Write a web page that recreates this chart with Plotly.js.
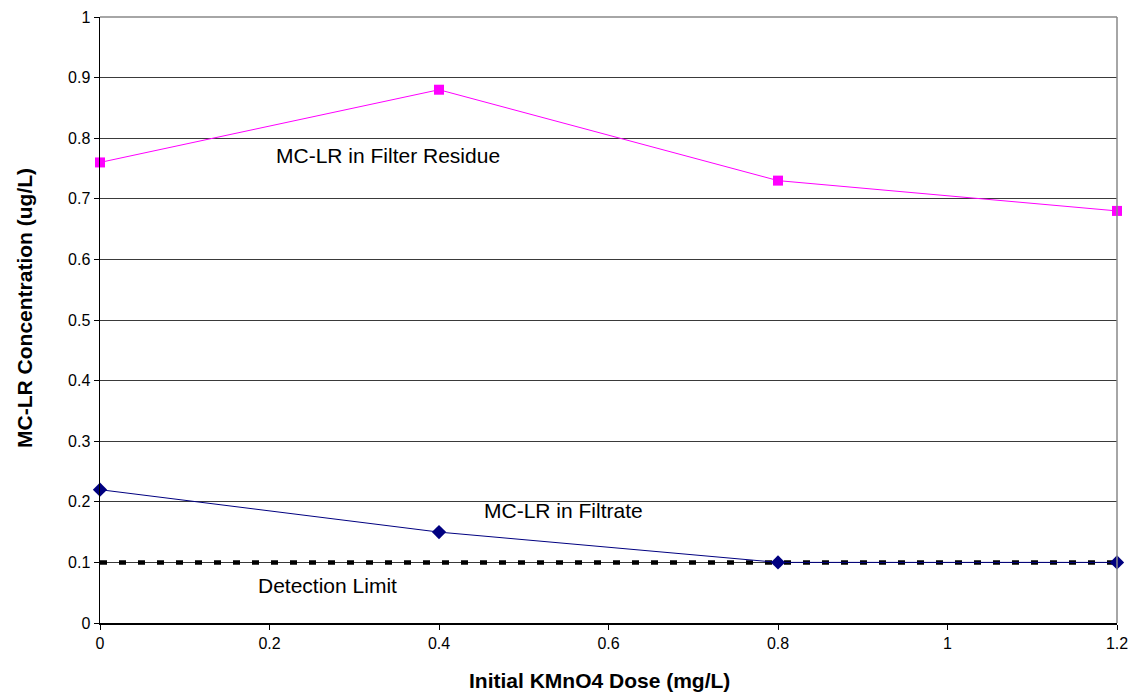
<!DOCTYPE html>
<html>
<head>
<meta charset="utf-8">
<script src="https://cdn.plot.ly/plotly-3.0.1.min.js"></script>
<style>html,body{margin:0;padding:0;background:#fff}#chart{width:1131px;height:692px}</style>
</head>
<body>
<div id="chart"></div>
<script>
const doses = [0, 0.4, 0.8, 1.2];
const filterResidue = [0.76, 0.88, 0.73, 0.68];
const filtrate = [0.22, 0.15, 0.10, 0.10];
const detectionX = [0, 1.2];
const detectionLimit = [0.1, 0.1];
const yTicks = [0, 0.1, 0.2, 0.3, 0.4, 0.5, 0.6, 0.7, 0.8, 0.9, 1];
const xTicks = [0, 0.2, 0.4, 0.6, 0.8, 1, 1.2];

const font = 'Arial, "Liberation Sans", sans-serif';

const traces = [
  {x: detectionX, y: detectionLimit, mode: 'lines', name: 'Detection Limit',
   line: {color: '#000000', width: 4.5, dash: '7px,12px'}, cliponaxis: false},
  {x: doses, y: filtrate, mode: 'lines+markers', name: 'MC-LR in Filtrate',
   line: {color: '#000080', width: 1}, marker: {symbol: 'diamond', size: 11, color: '#000080'}, cliponaxis: false},
  {x: doses, y: filterResidue, mode: 'lines+markers', name: 'MC-LR in Filter Residue',
   line: {color: '#FF00FF', width: 1}, marker: {symbol: 'square', size: 10, color: '#FF00FF'}, cliponaxis: false}
];

const layout = {
  width: 1131, height: 692,
  margin: {l: 100, r: 14, t: 17, b: 69},
  paper_bgcolor: '#fff', plot_bgcolor: '#fff',
  showlegend: false,
  font: {family: font, size: 16, color: '#000'},
  xaxis: {
    range: [0, 1.2], tickvals: xTicks, ticktext: xTicks.map(String),
    showgrid: false, zeroline: false, showline: true, linecolor: '#000', linewidth: 1.5,
    ticks: 'outside', ticklen: 5, tickcolor: '#000', tickfont: {size: 16}
  },
  yaxis: {
    range: [0, 1], tickvals: yTicks, ticktext: yTicks.map(String),
    showgrid: true, gridcolor: '#3a3a3a', gridwidth: 1, zeroline: false,
    showline: true, linecolor: '#000', linewidth: 1.5,
    ticks: 'outside', ticklen: 5, tickcolor: '#000', tickfont: {size: 16}
  },
  shapes: [
    {type: 'line', xref: 'paper', yref: 'paper', x0: 0, x1: 1, y0: 1, y1: 1, line: {color: '#888', width: 1.5}},
    {type: 'line', xref: 'paper', yref: 'paper', x0: 1, x1: 1, y0: 0, y1: 1, line: {color: '#888', width: 1.5}}
  ],
  annotations: [
    {x: 0.4907, y: 0, xref: 'paper', yref: 'paper', yshift: -57, xanchor: 'center', yanchor: 'middle',
     text: '<b>Initial KMnO4 Dose (mg/L)</b>', showarrow: false, font: {size: 21}},
    {x: 0, y: 0.52, xref: 'paper', yref: 'paper', xshift: -75, xanchor: 'center', yanchor: 'middle', textangle: -90,
     text: '<b>MC-LR Concentration (ug/L)</b>', showarrow: false, font: {size: 21}},
    {x: 0.34, y: 0.772, xref: 'x', yref: 'y', text: 'MC-LR in Filter Residue', showarrow: false, font: {size: 21}},
    {x: 0.547, y: 0.185, xref: 'x', yref: 'y', text: 'MC-LR in Filtrate', showarrow: false, font: {size: 21}},
    {x: 0.268, y: 0.0627, xref: 'x', yref: 'y', text: 'Detection Limit', showarrow: false, font: {size: 21}}
  ]
};

Plotly.newPlot('chart', traces, layout, {displayModeBar: false, staticPlot: true});
</script>
</body>
</html>
